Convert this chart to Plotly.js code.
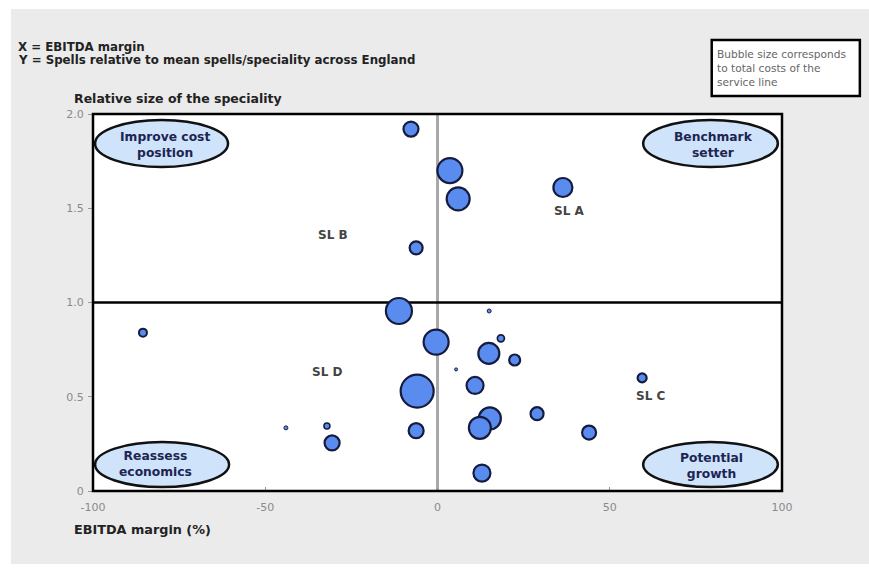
<!DOCTYPE html>
<html>
<head>
<meta charset="utf-8">
<script src="https://cdn.plot.ly/plotly-3.0.1.min.js"></script>
<style>html,body{margin:0;padding:0;background:#fff;}#chart{width:869px;height:570px;}</style>
</head>
<body>
<div id="chart"></div>
<script>
// EBITDA margin (%) per service line
const ebitdaMargin = [-7.7, 3.6, 6.0, 36.4, -6.2, -11.2, -0.4, -5.9, -85.5, 15.0, 18.4, 14.9, 22.4, 5.4, 10.9, 15.2, 12.3, 28.9, 44.0, 59.4, 12.9, -6.2, -30.6, -32.1, -44.0];
// Spells relative to mean spells/speciality across England
const relativeSize = [1.92, 1.70, 1.55, 1.61, 1.29, 0.955, 0.79, 0.53, 0.84, 0.955, 0.81, 0.73, 0.695, 0.645, 0.56, 0.385, 0.335, 0.41, 0.31, 0.60, 0.095, 0.32, 0.255, 0.345, 0.335];
// Bubble size ~ total costs of the service line (relative units)
const totalCosts = [15, 25, 23, 19, 13, 26, 25, 33, 8, 4, 7, 21, 11, 3, 17, 22, 22, 13, 14, 9, 17, 15, 15, 6, 4];

const xTickVals = [-100, -50, 0, 50, 100];
const xTickText = ["-100", "-50", "0", "50", "100"];
const yTickVals = [0, 0.5, 1, 1.5, 2];
const yTickText = ["0", "0.5", "1.0", "1.5", "2.0"];

const slLabels = ["SL A", "SL B", "SL C", "SL D"];
const slX = [38.1, -30.3, 61.7, -32.1];
const slY = [1.485, 1.358, 0.504, 0.631];

const quadrantLabels = ["Improve cost<br>position", "Benchmark<br>setter", "Reassess<br>economics", "Potential<br>growth"];

const FONT = "'DejaVu Sans', Verdana, sans-serif";

const trace = {
  type: "scatter",
  mode: "markers",
  x: ebitdaMargin,
  y: relativeSize,
  marker: {
    size: totalCosts,
    sizemode: "diameter",
    color: "#5a8cf0",
    opacity: 1,
    line: { color: "#151c3e", width: totalCosts.map(s => Math.min(2.2, Math.max(1, s / 4))) }
  },
  hoverinfo: "x+y",
  showlegend: false,
  cliponaxis: false
};

// quadrant ellipses (layout positions, data coordinates)
const ellipseBoxes = [
  [-99.4, -60.8, 1.719, 1.968],
  [59.7, 98.8, 1.719, 1.968],
  [-99.4, -60.5, 0.021, 0.260],
  [59.7, 98.8, 0.021, 0.260]
];
const ellipseTextPos = [[-79.1, 1.835], [80.0, 1.835], [-82.0, 0.143], [79.4, 0.133]];

const shapes = [
  { type: "rect", xref: "paper", yref: "paper", x0: -0.119, x1: 1.13, y0: -0.1936, y1: 1.2785, fillcolor: "#ebebeb", line: { width: 0 }, layer: "below" },
  { type: "rect", xref: "paper", yref: "paper", x0: 0, x1: 1, y0: 0, y1: 1, fillcolor: "#ffffff", line: { width: 0 }, layer: "below" },
  { type: "line", xref: "x", yref: "paper", x0: 0, x1: 0, y0: 0, y1: 1, line: { color: "#a9a9a9", width: 3 }, layer: "below" },
  { type: "line", xref: "paper", yref: "y", x0: 0, x1: 1, y0: 1, y1: 1, line: { color: "#000000", width: 2.5 }, layer: "below" },
  { type: "rect", xref: "paper", yref: "paper", x0: 0.898, x1: 1.113, y0: 1.048, y1: 1.196, fillcolor: "#ffffff", line: { color: "#000", width: 2.5 } }
];
ellipseBoxes.forEach(b => shapes.push({
  type: "circle", xref: "x", yref: "y", x0: b[0], x1: b[1], y0: b[2], y1: b[3],
  fillcolor: "#cfe3fb", line: { color: "#111", width: 2.5 }, layer: "above"
}));
shapes.push({ type: "rect", xref: "paper", yref: "paper", x0: 0, x1: 1, y0: 0, y1: 1, line: { color: "#000", width: 2.5 }, layer: "above" });

const annotations = [
  { xref: "paper", yref: "paper", x: -0.112, y: 1.178, xanchor: "left", yanchor: "middle", showarrow: false, text: "<b>X = EBITDA margin</b>", font: { family: FONT, size: 11.8, color: "#222" } },
  { xref: "paper", yref: "paper", x: -0.112, y: 1.143, xanchor: "left", yanchor: "middle", showarrow: false, text: "<b>Y = Spells relative to mean spells/speciality across England</b>", font: { family: FONT, size: 11.8, color: "#222" } },
  { xref: "paper", yref: "paper", x: -0.031, y: 1.042, xanchor: "left", yanchor: "middle", showarrow: false, text: "<b>Relative size of the speciality</b>", font: { family: FONT, size: 12.5, color: "#222" } },
  { xref: "paper", yref: "paper", x: -0.030, y: -0.1034, xanchor: "left", yanchor: "middle", showarrow: false, text: "<b>EBITDA margin (%)</b>", font: { family: FONT, size: 12.8, color: "#222" } },
  { xref: "paper", yref: "paper", x: 0.903, y: 1.122, xanchor: "left", yanchor: "middle", align: "left", showarrow: false, text: "Bubble size corresponds<br>to total costs of the<br>service line", font: { family: FONT, size: 10.6, color: "#666" } }
];
slLabels.forEach((t, i) => annotations.push({
  xref: "x", yref: "y", x: slX[i], y: slY[i], showarrow: false, text: "<b>" + t + "</b>",
  font: { family: FONT, size: 12, color: "#444" }
}));
quadrantLabels.forEach((t, i) => annotations.push({
  xref: "x", yref: "y", x: ellipseTextPos[i][0], y: ellipseTextPos[i][1], showarrow: false, text: "<b>" + t + "</b>",
  font: { family: FONT, size: 12.3, color: "#1d2552" }
}));

const layout = {
  width: 869,
  height: 570,
  margin: { l: 93, r: 87, t: 114, b: 79, pad: 0 },
  paper_bgcolor: "#ffffff",
  plot_bgcolor: "rgba(0,0,0,0)",
  font: { family: FONT, size: 11, color: "#888" },
  xaxis: {
    range: [-100, 100], tickvals: xTickVals, ticktext: xTickText,
    showgrid: false, zeroline: false, showline: false,
    ticks: "inside", ticklen: 4, tickcolor: "#999", tickwidth: 1,
    ticklabelstandoff: 8,
    tickfont: { family: FONT, size: 11, color: "#8a8a8a" }, fixedrange: true
  },
  yaxis: {
    range: [0, 2], tickvals: yTickVals, ticktext: yTickText,
    showgrid: false, zeroline: false, showline: false,
    ticks: "outside", ticklen: 4, tickcolor: "#999", tickwidth: 1,
    ticklabelstandoff: 2,
    tickfont: { family: FONT, size: 11, color: "#8a8a8a" }, fixedrange: true
  },
  shapes: shapes,
  annotations: annotations,
  showlegend: false
};

Plotly.newPlot("chart", [trace], layout, { displayModeBar: false, staticPlot: true });
</script>
</body>
</html>
